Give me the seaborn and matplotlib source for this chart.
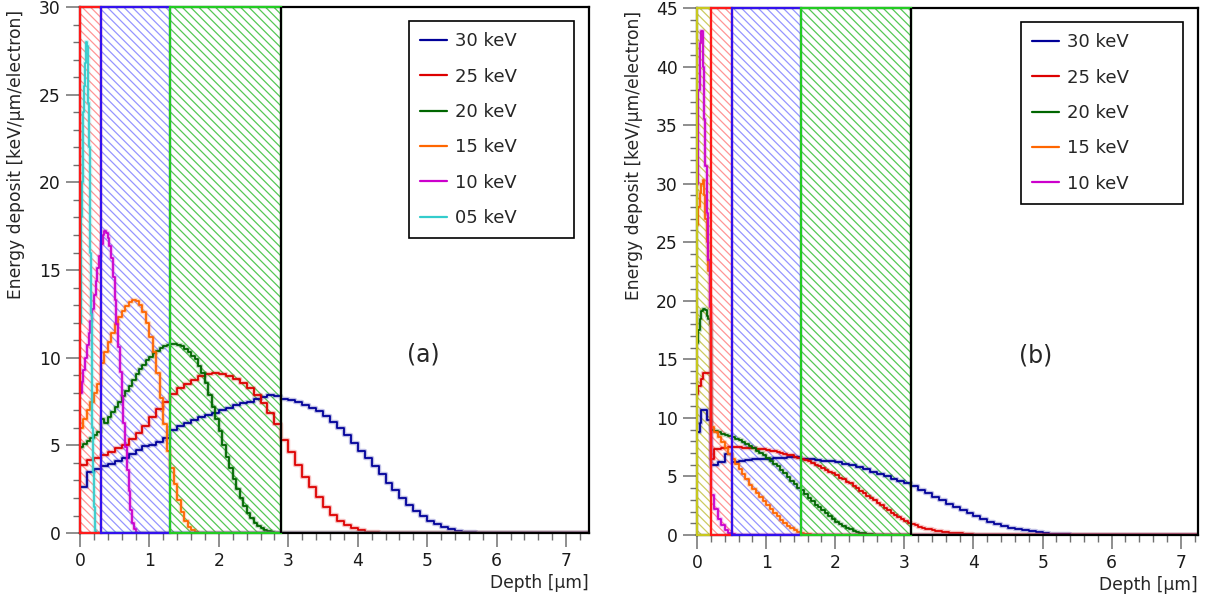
import pandas as pd
import numpy as np
import seaborn as sns
import matplotlib
matplotlib.use("Agg")
import matplotlib.pyplot as plt
import matplotlib.patheffects as pe
from matplotlib.lines import Line2D
from matplotlib.ticker import MultipleLocator

# ---------------- data ----------------
beam_labels = ["30 keV", "25 keV", "20 keV", "15 keV", "10 keV", "05 keV"]
beam_colors = ["#000099", "#dd0000", "#006600", "#ff6600", "#cc00cc", "#33cccc"]

# panel (a): layer boundaries (um) and deposits, each curve = (start, bin width, values)
layers_a = [0.0, 0.3, 1.3, 2.9]
layer_names_a = ["red", "blue", "green"]

a30 = [2.6, 3.5, 3.65, 3.8, 3.95, 4.1, 4.3, 4.5, 4.75, 4.95,
       5.05, 5.2, 5.4, 5.9, 6.1, 6.3, 6.45, 6.6, 6.75, 6.85,
       7.0, 7.15, 7.3, 7.4, 7.5, 7.65, 7.75, 7.85, 7.8, 7.65,
       7.6, 7.45, 7.3, 7.15, 6.95, 6.7, 6.35, 6.0, 5.6, 5.15,
       4.7, 4.3, 3.85, 3.35, 2.85, 2.45, 2.0, 1.6, 1.25, 0.95,
       0.7, 0.5, 0.35, 0.22, 0.13, 0.07, 0.04, 0.02, 0.01, 0.0]
a25 = [3.9, 4.15, 4.3, 4.45, 4.65, 4.85, 5.05, 5.35, 5.7, 6.1,
       6.6, 7.05, 7.5, 7.95, 8.25, 8.5, 8.75, 8.95, 9.05, 9.1,
       9.05, 8.95, 8.8, 8.55, 8.3, 7.9, 7.4, 6.85, 6.2, 5.3,
       4.6, 3.9, 3.2, 2.6, 2.05, 1.5, 1.05, 0.7, 0.45, 0.27,
       0.15, 0.08, 0.04, 0.02, 0.0]
a20 = [4.9, 5.1, 5.25, 5.4, 5.6, 5.75, 6.5, 6.3, 6.6, 6.9,
       7.2, 7.5, 7.8, 8.1, 8.4, 8.75, 9.05, 9.35, 9.6, 9.85,
       10.05, 10.25, 10.4, 10.55, 10.65, 10.75, 10.8, 10.8, 10.75, 10.65,
       10.5, 10.3, 10.1, 9.9, 9.55, 9.1, 8.55, 7.9, 7.2, 6.5,
       5.8, 5.05, 4.35, 3.7, 3.1, 2.5, 2.0, 1.55, 1.15, 0.85,
       0.6, 0.42, 0.28, 0.18, 0.11, 0.06, 0.03, 0.01, 0.0]
a15 = [6.0, 6.5, 7.0, 7.5, 8.0, 8.5, 9.7, 10.3, 10.9, 11.4,
       11.9, 12.3, 12.65, 12.95, 13.2, 13.3, 13.25, 13.0, 12.6, 12.0,
       11.2, 10.3, 9.1, 7.7, 6.2, 4.7, 3.7, 2.8, 1.9, 1.2,
       0.7, 0.35, 0.15, 0.05, 0.0]
a10 = [8.0, 8.6, 9.3, 10.0, 10.7, 11.4, 12.1, 12.8, 13.6, 14.4,
       15.1, 15.8, 16.5, 17.0, 17.2, 17.1, 16.8, 16.4, 15.7, 14.6,
       13.3, 11.9, 10.6, 9.2, 7.8, 6.3, 4.9, 3.6, 2.4, 1.3,
       0.6, 0.25, 0.08, 0.0]
a05 = [12.0, 15.0, 18.0, 20.0, 22.0, 24.0, 25.5, 26.8, 27.6, 28.0,
       27.8, 26.5, 24.5, 22.0, 19.0, 16.0, 12.5, 9.0, 6.0, 3.5,
       1.5, 0.5, 0.1, 0.0]
curves_a = [
    [(0.0, 0.1, a30)],
    [(0.0, 0.1, a25)],
    [(0.0, 0.05, a20)],
    [(0.0, 0.05, a15)],
    [(0.0, 0.025, a10)],
    [(0.0, 0.01, a05)],
]

# panel (b): near-surface bins of 0.02 um, then coarser bins from 0.2 um
layers_b = [0.0, 0.2, 0.5, 1.5, 3.1]
layer_names_b = ["yellow", "red", "blue", "green"]

b30_near = [8.8, 8.8, 9.6, 10.7, 10.7, 10.7, 10.7, 9.8, 9.8, 9.8]
b30_bulk = [6.0, 6.25, 6.9, 6.2, 6.35, 6.4, 6.45, 6.45, 6.5, 6.55,
            6.6, 6.65, 6.7, 6.45, 6.45, 6.4, 6.35, 6.3, 6.2, 6.1,
            6.0, 5.8, 5.6, 5.4, 5.2, 5.0, 4.8, 4.6, 4.4, 4.15,
            3.85, 3.55, 3.25, 2.95, 2.65, 2.35, 2.1, 1.85, 1.6, 1.35,
            1.15, 0.95, 0.78, 0.63, 0.5, 0.4, 0.3, 0.23, 0.17, 0.12,
            0.08, 0.05, 0.03, 0.02, 0.0]
b25_near = [12.0, 12.7, 12.7, 13.3, 13.8, 13.8, 13.8, 13.8, 13.8, 13.8]
b25_bulk = [6.5, 7.3, 7.35, 7.4, 7.45, 7.5, 7.5, 7.5, 7.5, 7.45,
            7.45, 7.4, 7.4, 7.35, 7.3, 7.3, 7.25, 7.2, 7.15, 7.1,
            7.0, 6.95, 6.85, 6.8, 6.7, 6.6, 6.5, 6.4, 6.3, 6.15,
            6.0, 5.85, 5.7, 5.55, 5.4, 5.25, 5.1, 4.9, 4.75, 4.55,
            4.4, 4.2, 4.0, 3.75, 3.55, 3.35, 3.15, 2.95, 2.75, 2.55,
            2.3, 2.1, 1.9, 1.7, 1.5, 1.35, 1.2, 1.05, 0.95, 0.82,
            0.7, 0.62, 0.55, 0.48, 0.42, 0.37, 0.32, 0.28, 0.24, 0.2,
            0.17, 0.15, 0.13, 0.1, 0.08, 0.06, 0.04, 0.03, 0.02, 0.01,
            0.0]
b20_near = [16.4, 17.5, 18.4, 19.1, 19.3, 19.3, 19.2, 18.7, 18.4, 18.0]
b20_bulk = [9.0, 8.9, 8.8, 8.65, 8.55, 8.45, 8.35, 8.2, 8.1, 7.95,
            7.8, 7.6, 7.4, 7.2, 7.0, 6.8, 6.6, 6.35, 6.1, 5.85,
            5.55, 5.25, 4.95, 4.65, 4.35, 4.05, 3.8, 3.5, 3.2, 2.9,
            2.6, 2.35, 2.1, 1.85, 1.6, 1.35, 1.15, 0.95, 0.78, 0.62,
            0.48, 0.36, 0.27, 0.2, 0.14, 0.1, 0.06, 0.04, 0.02, 0.0]
b15_near = [26.5, 28.0, 29.2, 30.0, 30.3, 29.0, 27.0, 25.0, 22.5, 19.5]
b15_bulk = [9.2, 8.8, 8.4, 7.9, 7.4, 6.95, 6.5, 6.05, 5.6, 5.2,
            4.8, 4.3, 3.95, 3.6, 3.25, 2.9, 2.55, 2.2, 1.9, 1.6,
            1.3, 1.05, 0.8, 0.6, 0.42, 0.28, 0.17, 0.1, 0.05, 0.02,
            0.0]
b10_near = [30.0, 38.0, 42.0, 43.0, 40.0, 35.5, 31.5, 27.5, 23.5, 19.5]
b10_bulk = [3.4, 2.2, 1.4, 0.85, 0.45, 0.2, 0.07, 0.0]
curves_b = [
    [(0.0, 0.02, b30_near), (0.2, 0.1, b30_bulk)],
    [(0.0, 0.02, b25_near), (0.2, 0.05, b25_bulk)],
    [(0.0, 0.02, b20_near), (0.2, 0.05, b20_bulk)],
    [(0.0, 0.02, b15_near), (0.2, 0.05, b15_bulk)],
    [(0.0, 0.02, b10_near), (0.2, 0.05, b10_bulk)],
]

layer_edge = {"red": "#ff1a1a", "blue": "#3311ee", "green": "#22cc22", "yellow": "#c8c81e"}
layer_hatch = {"red": "#ff9595", "blue": "#9595ff", "green": "#55c855", "yellow": "#cccc60"}


def histo_frame(segments, label, xmax):
    xs, ys = [], []
    for start, width, vals in segments:
        for i, v in enumerate(vals):
            xs.append(round(start + i * width, 4))
            ys.append(v)
        end = round(start + len(vals) * width, 4)
    xs += [end, xmax]
    ys += [0.0, 0.0]
    return pd.DataFrame({"depth": xs, "edep": ys, "beam": label})


sns.set_style("ticks")
plt.rcParams["font.family"] = ["DejaVu Sans"]
plt.rcParams["hatch.linewidth"] = 0.9
plt.rcParams["axes.linewidth"] = 1.6

fig = plt.figure(figsize=(12.06, 6.03), dpi=100)
ax_a = fig.add_axes([0.0663, 0.116, 0.4221, 0.8723])
ax_b = fig.add_axes([0.578, 0.1128, 0.4154, 0.874])

panels = [
    (ax_a, curves_a, layers_a, layer_names_a, 7.33, 30, "(a)", 6),
    (ax_b, curves_b, layers_b, layer_names_b, 7.25, 45, "(b)", 5),
]

for ax, curves, layers, names, xmax, ymax, tag, n in panels:
    # hatched layers
    for x0, x1, nm in zip(layers[:-1], layers[1:], names):
        ax.axvspan(x0, x1, facecolor="none", edgecolor=layer_hatch[nm],
                   hatch="\\\\\\\\", lw=0, zorder=1)
    df = pd.concat([histo_frame(seg, lab, xmax)
                    for seg, lab in zip(curves, beam_labels[:n])], ignore_index=True)
    sns.lineplot(data=df, x="depth", y="edep", hue="beam",
                 hue_order=beam_labels[:n], palette=beam_colors[:n],
                 drawstyle="steps-post", estimator=None, errorbar=None,
                 lw=1.3, legend=False, ax=ax, zorder=3,
                 path_effects=[pe.Stroke(linewidth=3.2, alpha=0.25), pe.Normal()])
    # layer outlines on top
    for x0, x1, nm in zip(layers[:-1], layers[1:], names):
        ax.axvspan(x0, x1, fill=False, edgecolor=layer_edge[nm], lw=1.6,
                   zorder=5, clip_on=False)
    ax.axvline(layers[-1], color="black", lw=1.6, zorder=5)

    ax.set_xlim(0, xmax)
    ax.set_ylim(0, ymax)
    ax.xaxis.set_major_locator(MultipleLocator(1))
    ax.xaxis.set_minor_locator(MultipleLocator(0.2))
    ax.yaxis.set_major_locator(MultipleLocator(5))
    ax.yaxis.set_minor_locator(MultipleLocator(1))
    ax.tick_params(which="both", direction="out", color="#707070",
                   labelcolor="#1a1a1a", labelsize=12.3, pad=4)
    ax.tick_params(which="major", length=10, width=1.1)
    ax.tick_params(which="minor", length=5, width=1.0)
    for sp in ax.spines.values():
        sp.set_visible(True)
        sp.set_color("black")
        sp.set_zorder(4)

    ax.set_xlabel("Depth [μm]", fontsize=12.3, loc="right")
    ax.xaxis.set_label_coords(1.0, -0.078)
    ax.set_ylabel("Energy deposit [keV/μm/electron]", fontsize=12.3, loc="top")
    ax.yaxis.set_label_coords(-0.107, 0.995)

    ax.text(0.675, 0.34, tag, transform=ax.transAxes, ha="center",
            va="center", fontsize=17)

    handles = [Line2D([], [], color=c, lw=1.6) for c in beam_colors[:n]]
    leg = ax.legend(handles, beam_labels[:n], loc="upper left",
                    bbox_to_anchor=(0.646, 0.0, 0.324, 0.973), mode="expand",
                    borderaxespad=0, fontsize=13, labelspacing=0.96,
                    handlelength=1.5, handletextpad=0.45, borderpad=0.62,
                    fancybox=False, framealpha=1, edgecolor="black")
    leg.get_frame().set_linewidth(1.2)
    leg.set_zorder(6)

fig.savefig("out.png", dpi=100)
